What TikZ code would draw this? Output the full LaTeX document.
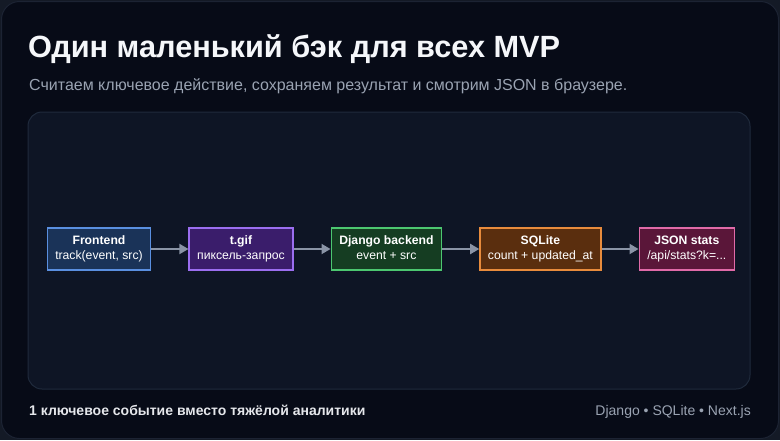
\documentclass[tikz,border=0pt]{standalone}
\usepackage{fontspec}
\setmainfont{Liberation Sans}
\usetikzlibrary{arrows.meta,positioning}
\definecolor{pagebg}{HTML}{141A26}
\definecolor{outerfill}{HTML}{070B17}
\definecolor{outerline}{HTML}{1C2333}
\definecolor{innerfill}{HTML}{0E1525}
\definecolor{innerline}{HTML}{1F2A3C}
\definecolor{titlecol}{HTML}{F5F7FA}
\definecolor{subcol}{HTML}{9AA3B2}
\definecolor{footcol}{HTML}{E5E7EB}
\definecolor{arrowcol}{HTML}{8A94A6}
\definecolor{feFill}{HTML}{1A3358}\definecolor{feLine}{HTML}{5A8FE0}
\definecolor{gfFill}{HTML}{3A1D6B}\definecolor{gfLine}{HTML}{9B6EF0}
\definecolor{djFill}{HTML}{153D22}\definecolor{djLine}{HTML}{4CC770}
\definecolor{sqFill}{HTML}{5A2E0E}\definecolor{sqLine}{HTML}{E88B3C}
\definecolor{jsFill}{HTML}{5A1639}\definecolor{jsLine}{HTML}{E06AA8}
\newcommand{\stagetext}[2]{\strut\textbf{#1}\\#2\strut}
\tikzset{
  stage/.style={rectangle, draw=#1Line, fill=#1Fill, line width=1.5pt,
    minimum height=42pt, inner xsep=8pt, inner ysep=3pt, align=center,
    text=white, font=\fontsize{12.2}{14.5}\selectfont},
  flow/.style={draw=arrowcol, line width=1.8pt, -{Triangle[length=9pt,width=10pt]}},
}
\begin{document}
\begin{tikzpicture}[x=1pt,y=-1pt]
\useasboundingbox (0,0) rectangle (780,440);
\fill[pagebg] (0,0) rectangle (780,440);
\draw[outerline, fill=outerfill, line width=1pt, rounded corners=18pt] (1.5,1.5) rectangle (778.5,438.5);
\draw[innerline, fill=innerfill, line width=1pt, rounded corners=14pt] (28,112) rectangle (750,389);
\node[anchor=base west, inner sep=0pt, text=titlecol, font=\fontsize{30.7}{36}\selectfont\bfseries] (title) at (28,57) {Один маленький бэк для всех MVP};
\node[anchor=base west, inner sep=0pt, text=subcol, font=\fontsize{16}{19}\selectfont] (subtitle) at (29,90) {Считаем ключевое действие, сохраняем результат и смотрим JSON в браузере.};
\node[stage=fe, anchor=west] (fe) at (46.5,249) {\stagetext{Frontend}{track(event, src)}};
\node[stage=gf, right=37pt of fe] (gf) {\stagetext{t.gif}{пиксель-запрос}};
\node[stage=dj, right=37pt of gf] (dj) {\stagetext{Django backend}{event + src}};
\node[stage=sq, right=37pt of dj] (sq) {\stagetext{SQLite}{count + updated\_at}};
\node[stage=js, right=37pt of sq] (js) {\stagetext{JSON stats}{/api/stats?k=...}};
\draw[flow] (fe) -- (gf);
\draw[flow] (gf) -- (dj);
\draw[flow] (dj) -- (sq);
\draw[flow] (sq) -- (js);
\node[anchor=base west, inner sep=0pt, text=footcol, font=\fontsize{14}{16}\selectfont\bfseries] (footl) at (29,415) {1 ключевое событие вместо тяжёлой аналитики};
\node[anchor=base east, inner sep=0pt, text=subcol, font=\fontsize{14}{16}\selectfont] (footr) at (751,415) {Django • SQLite • Next.js};
\end{tikzpicture}
\end{document}
